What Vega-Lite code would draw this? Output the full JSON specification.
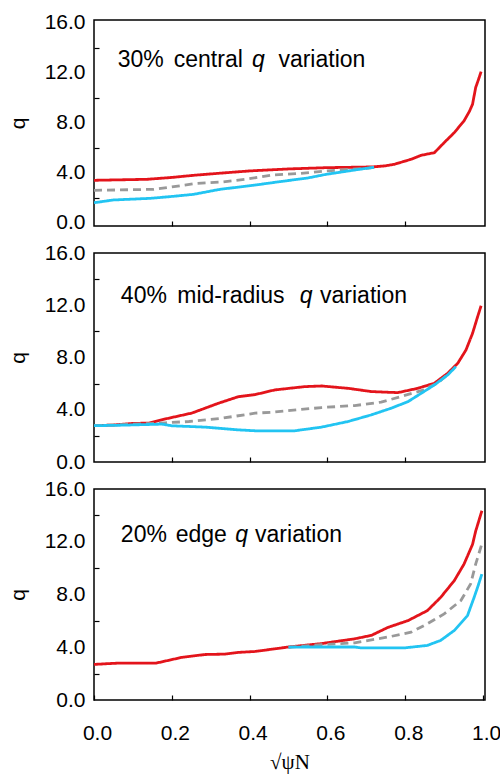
{
  "$schema": "https://vega.github.io/schema/vega-lite/v6.json",
  "background": "white",
  "padding": {"left": 6, "top": 10, "right": 5, "bottom": 5},
  "bounds": "flush",
  "spacing": 27,
  "config": {
    "view": {"stroke": "black", "strokeWidth": 1.5},
    "font": "Liberation Sans",
    "axis": {
      "domain": false,
      "grid": false,
      "labelFont": "Liberation Sans",
      "labelFontSize": 21,
      "labelColor": "black",
      "tickColor": "black",
      "tickWidth": 1.2,
      "titleFont": "Liberation Sans",
      "titleFontWeight": "normal",
      "titleFontSize": 21,
      "titleColor": "black"
    },
    "line": {"strokeWidth": 2.8},
    "text": {"align": "left", "baseline": "alphabetic", "fontSize": 23, "font": "Liberation Sans", "color": "black"}
  },
  "datasets": {
    "profiles": [
      {"panel": 1, "series": "upper", "x": 0.0, "q": 3.39},
      {"panel": 1, "series": "upper", "x": 0.05, "q": 3.42},
      {"panel": 1, "series": "upper", "x": 0.136, "q": 3.47},
      {"panel": 1, "series": "upper", "x": 0.2, "q": 3.62},
      {"panel": 1, "series": "upper", "x": 0.256, "q": 3.79},
      {"panel": 1, "series": "upper", "x": 0.32, "q": 3.95},
      {"panel": 1, "series": "upper", "x": 0.4, "q": 4.14},
      {"panel": 1, "series": "upper", "x": 0.5, "q": 4.3},
      {"panel": 1, "series": "upper", "x": 0.596, "q": 4.4},
      {"panel": 1, "series": "upper", "x": 0.716, "q": 4.46},
      {"panel": 1, "series": "upper", "x": 0.747, "q": 4.54},
      {"panel": 1, "series": "upper", "x": 0.772, "q": 4.67},
      {"panel": 1, "series": "upper", "x": 0.815, "q": 5.07},
      {"panel": 1, "series": "upper", "x": 0.841, "q": 5.39},
      {"panel": 1, "series": "upper", "x": 0.875, "q": 5.6},
      {"panel": 1, "series": "upper", "x": 0.9, "q": 6.4},
      {"panel": 1, "series": "upper", "x": 0.926, "q": 7.2},
      {"panel": 1, "series": "upper", "x": 0.951, "q": 8.14},
      {"panel": 1, "series": "upper", "x": 0.965, "q": 8.9},
      {"panel": 1, "series": "upper", "x": 0.973, "q": 9.47},
      {"panel": 1, "series": "upper", "x": 0.981, "q": 10.8},
      {"panel": 1, "series": "upper", "x": 0.99, "q": 11.6},
      {"panel": 1, "series": "upper", "x": 0.995, "q": 12.08},

      {"panel": 1, "series": "reference", "x": 0.0, "q": 2.59},
      {"panel": 1, "series": "reference", "x": 0.153, "q": 2.67},
      {"panel": 1, "series": "reference", "x": 0.2, "q": 2.86},
      {"panel": 1, "series": "reference", "x": 0.256, "q": 3.12},
      {"panel": 1, "series": "reference", "x": 0.33, "q": 3.26},
      {"panel": 1, "series": "reference", "x": 0.39, "q": 3.47},
      {"panel": 1, "series": "reference", "x": 0.46, "q": 3.82},
      {"panel": 1, "series": "reference", "x": 0.53, "q": 3.94},
      {"panel": 1, "series": "reference", "x": 0.597, "q": 4.14},
      {"panel": 1, "series": "reference", "x": 0.7, "q": 4.35},
      {"panel": 1, "series": "reference", "x": 0.73, "q": 4.46},

      {"panel": 1, "series": "lower", "x": 0.0, "q": 1.6},
      {"panel": 1, "series": "lower", "x": 0.05, "q": 1.82},
      {"panel": 1, "series": "lower", "x": 0.145, "q": 1.95},
      {"panel": 1, "series": "lower", "x": 0.2, "q": 2.1},
      {"panel": 1, "series": "lower", "x": 0.256, "q": 2.27},
      {"panel": 1, "series": "lower", "x": 0.324, "q": 2.67},
      {"panel": 1, "series": "lower", "x": 0.409, "q": 2.99},
      {"panel": 1, "series": "lower", "x": 0.477, "q": 3.28},
      {"panel": 1, "series": "lower", "x": 0.55, "q": 3.58},
      {"panel": 1, "series": "lower", "x": 0.597, "q": 3.87},
      {"panel": 1, "series": "lower", "x": 0.682, "q": 4.27},
      {"panel": 1, "series": "lower", "x": 0.72, "q": 4.43},

      {"panel": 2, "series": "upper", "x": 0.0, "q": 2.78},
      {"panel": 2, "series": "upper", "x": 0.05, "q": 2.83},
      {"panel": 2, "series": "upper", "x": 0.099, "q": 2.95},
      {"panel": 2, "series": "upper", "x": 0.141, "q": 2.98},
      {"panel": 2, "series": "upper", "x": 0.184, "q": 3.3},
      {"panel": 2, "series": "upper", "x": 0.252, "q": 3.75},
      {"panel": 2, "series": "upper", "x": 0.32, "q": 4.5},
      {"panel": 2, "series": "upper", "x": 0.371, "q": 5.0},
      {"panel": 2, "series": "upper", "x": 0.414, "q": 5.16},
      {"panel": 2, "series": "upper", "x": 0.465, "q": 5.52},
      {"panel": 2, "series": "upper", "x": 0.542, "q": 5.77},
      {"panel": 2, "series": "upper", "x": 0.585, "q": 5.82},
      {"panel": 2, "series": "upper", "x": 0.653, "q": 5.64},
      {"panel": 2, "series": "upper", "x": 0.713, "q": 5.39},
      {"panel": 2, "series": "upper", "x": 0.781, "q": 5.31},
      {"panel": 2, "series": "upper", "x": 0.832, "q": 5.64},
      {"panel": 2, "series": "upper", "x": 0.875, "q": 6.03},
      {"panel": 2, "series": "upper", "x": 0.909, "q": 6.79},
      {"panel": 2, "series": "upper", "x": 0.935, "q": 7.56},
      {"panel": 2, "series": "upper", "x": 0.956, "q": 8.57},
      {"panel": 2, "series": "upper", "x": 0.973, "q": 9.85},
      {"panel": 2, "series": "upper", "x": 0.986, "q": 11.12},
      {"panel": 2, "series": "upper", "x": 0.995, "q": 11.96},

      {"panel": 2, "series": "reference", "x": 0.0, "q": 2.78},
      {"panel": 2, "series": "reference", "x": 0.184, "q": 3.0},
      {"panel": 2, "series": "reference", "x": 0.244, "q": 3.1},
      {"panel": 2, "series": "reference", "x": 0.329, "q": 3.35},
      {"panel": 2, "series": "reference", "x": 0.414, "q": 3.74},
      {"panel": 2, "series": "reference", "x": 0.457, "q": 3.81},
      {"panel": 2, "series": "reference", "x": 0.585, "q": 4.17},
      {"panel": 2, "series": "reference", "x": 0.67, "q": 4.32},
      {"panel": 2, "series": "reference", "x": 0.738, "q": 4.58},
      {"panel": 2, "series": "reference", "x": 0.789, "q": 5.01},
      {"panel": 2, "series": "reference", "x": 0.841, "q": 5.46},
      {"panel": 2, "series": "reference", "x": 0.884, "q": 6.04},
      {"panel": 2, "series": "reference", "x": 0.91, "q": 6.74},

      {"panel": 2, "series": "lower", "x": 0.0, "q": 2.78},
      {"panel": 2, "series": "lower", "x": 0.077, "q": 2.82},
      {"panel": 2, "series": "lower", "x": 0.175, "q": 2.9},
      {"panel": 2, "series": "lower", "x": 0.201, "q": 2.77},
      {"panel": 2, "series": "lower", "x": 0.286, "q": 2.67},
      {"panel": 2, "series": "lower", "x": 0.371, "q": 2.46},
      {"panel": 2, "series": "lower", "x": 0.414, "q": 2.39},
      {"panel": 2, "series": "lower", "x": 0.516, "q": 2.39},
      {"panel": 2, "series": "lower", "x": 0.585, "q": 2.67},
      {"panel": 2, "series": "lower", "x": 0.653, "q": 3.1},
      {"panel": 2, "series": "lower", "x": 0.713, "q": 3.61},
      {"panel": 2, "series": "lower", "x": 0.764, "q": 4.12},
      {"panel": 2, "series": "lower", "x": 0.807, "q": 4.62},
      {"panel": 2, "series": "lower", "x": 0.841, "q": 5.26},
      {"panel": 2, "series": "lower", "x": 0.875, "q": 5.9},
      {"panel": 2, "series": "lower", "x": 0.909, "q": 6.66},
      {"panel": 2, "series": "lower", "x": 0.93, "q": 7.3},

      {"panel": 3, "series": "upper", "x": 0.0, "q": 2.7},
      {"panel": 3, "series": "upper", "x": 0.065, "q": 2.8},
      {"panel": 3, "series": "upper", "x": 0.16, "q": 2.8},
      {"panel": 3, "series": "upper", "x": 0.227, "q": 3.24},
      {"panel": 3, "series": "upper", "x": 0.286, "q": 3.45},
      {"panel": 3, "series": "upper", "x": 0.337, "q": 3.48},
      {"panel": 3, "series": "upper", "x": 0.371, "q": 3.61},
      {"panel": 3, "series": "upper", "x": 0.414, "q": 3.68},
      {"panel": 3, "series": "upper", "x": 0.5, "q": 4.02},
      {"panel": 3, "series": "upper", "x": 0.585, "q": 4.28},
      {"panel": 3, "series": "upper", "x": 0.67, "q": 4.64},
      {"panel": 3, "series": "upper", "x": 0.713, "q": 4.9},
      {"panel": 3, "series": "upper", "x": 0.755, "q": 5.5},
      {"panel": 3, "series": "upper", "x": 0.807, "q": 6.02},
      {"panel": 3, "series": "upper", "x": 0.857, "q": 6.78},
      {"panel": 3, "series": "upper", "x": 0.891, "q": 7.78},
      {"panel": 3, "series": "upper", "x": 0.926, "q": 9.05},
      {"panel": 3, "series": "upper", "x": 0.951, "q": 10.3},
      {"panel": 3, "series": "upper", "x": 0.973, "q": 11.8},
      {"panel": 3, "series": "upper", "x": 0.981, "q": 12.8},
      {"panel": 3, "series": "upper", "x": 0.997, "q": 14.35},

      {"panel": 3, "series": "reference", "x": 0.5, "q": 4.0},
      {"panel": 3, "series": "reference", "x": 0.585, "q": 4.2},
      {"panel": 3, "series": "reference", "x": 0.67, "q": 4.33},
      {"panel": 3, "series": "reference", "x": 0.755, "q": 4.77},
      {"panel": 3, "series": "reference", "x": 0.815, "q": 5.14},
      {"panel": 3, "series": "reference", "x": 0.857, "q": 5.78},
      {"panel": 3, "series": "reference", "x": 0.9, "q": 6.53},
      {"panel": 3, "series": "reference", "x": 0.943, "q": 7.54},
      {"panel": 3, "series": "reference", "x": 0.968, "q": 8.8},
      {"panel": 3, "series": "reference", "x": 0.981, "q": 10.3},
      {"panel": 3, "series": "reference", "x": 0.997, "q": 11.85},

      {"panel": 3, "series": "lower", "x": 0.5, "q": 4.0},
      {"panel": 3, "series": "lower", "x": 0.542, "q": 4.02},
      {"panel": 3, "series": "lower", "x": 0.67, "q": 4.02},
      {"panel": 3, "series": "lower", "x": 0.686, "q": 3.95},
      {"panel": 3, "series": "lower", "x": 0.798, "q": 3.95},
      {"panel": 3, "series": "lower", "x": 0.857, "q": 4.14},
      {"panel": 3, "series": "lower", "x": 0.891, "q": 4.52},
      {"panel": 3, "series": "lower", "x": 0.926, "q": 5.27},
      {"panel": 3, "series": "lower", "x": 0.96, "q": 6.4},
      {"panel": 3, "series": "lower", "x": 0.977, "q": 7.78},
      {"panel": 3, "series": "lower", "x": 0.986, "q": 8.55},
      {"panel": 3, "series": "lower", "x": 0.997, "q": 9.55}
    ],
    "labels": [
      {"panel": 1, "text": "30%", "x": 0.061, "q": 12.46},
      {"panel": 1, "text": "central", "x": 0.205, "q": 12.46},
      {"panel": 1, "text": "q", "x": 0.406, "q": 12.46},
      {"panel": 1, "text": "variation", "x": 0.474, "q": 12.46},
      {"panel": 2, "text": "40%", "x": 0.069, "q": 12.18},
      {"panel": 2, "text": "mid-radius", "x": 0.214, "q": 12.18},
      {"panel": 2, "text": "q", "x": 0.529, "q": 12.18},
      {"panel": 2, "text": "variation", "x": 0.581, "q": 12.18},
      {"panel": 3, "text": "20%", "x": 0.069, "q": 11.95},
      {"panel": 3, "text": "edge", "x": 0.21, "q": 11.95},
      {"panel": 3, "text": "q", "x": 0.363, "q": 11.95},
      {"panel": 3, "text": "variation", "x": 0.414, "q": 11.95}
    ]
  },
  "vconcat": [
    {
      "width": 391,
      "height": 206,
      "encoding": {
        "x": {"field": "x", "type": "quantitative",
              "scale": {"domain": [0, 1.005], "nice": false, "zero": false},
              "axis": {"values": [0.2, 0.4, 0.6, 0.8], "labels": false, "tickSize": -5, "title": null}},
        "y": {"field": "q", "type": "quantitative",
              "scale": {"domain": [-0.26, 16.2], "nice": false, "zero": false},
              "axis": {"values": [0, 2, 4, 6, 8, 10, 12, 14, 16], "labelExpr": "datum.value % 4 === 0 ? format(datum.value, '.1f') : ''", "labelOverlap": false, "labelFlush": false, "tickSize": -5, "labelPadding": 14, "tickOpacity": {"condition": {"test": "datum.value % 4 === 2", "value": 1}, "value": 0}, "title": "q", "titlePadding": 16}}
      },
      "layer": [
        {
          "data": {"name": "profiles"},
          "transform": [{"filter": "datum.panel === 1"}],
          "mark": "line",
          "encoding": {
            "color": {"field": "series", "type": "nominal", "legend": null,
                      "scale": {"domain": ["lower", "reference", "upper"], "range": ["#22c4f2", "#999999", "#e3141b"]}},
            "strokeDash": {"field": "series", "type": "nominal", "legend": null,
                           "scale": {"domain": ["lower", "reference", "upper"], "range": [[1, 0], [8, 5], [1, 0]]}}
          }
        },
        {
          "data": {"name": "labels"},
          "transform": [{"filter": "datum.panel === 1 && datum.text !== 'q'"}],
          "mark": "text",
          "encoding": {"text": {"field": "text"}}
        },
        {
          "data": {"name": "labels"},
          "transform": [{"filter": "datum.panel === 1 && datum.text === 'q'"}],
          "mark": {"type": "text", "fontStyle": "italic"},
          "encoding": {"text": {"field": "text"}}
        }
      ]
    },
    {
      "width": 391,
      "height": 209,
      "encoding": {
        "x": {"field": "x", "type": "quantitative",
              "scale": {"domain": [0, 1.005], "nice": false, "zero": false},
              "axis": {"values": [0.2, 0.4, 0.6, 0.8], "labels": false, "tickSize": -5, "title": null}},
        "y": {"field": "q", "type": "quantitative",
              "scale": {"domain": [0, 16], "nice": false, "zero": false},
              "axis": {"values": [0, 2, 4, 6, 8, 10, 12, 14, 16], "labelExpr": "datum.value % 4 === 0 ? format(datum.value, '.1f') : ''", "labelOverlap": false, "labelFlush": false, "tickSize": -5, "labelPadding": 14, "tickOpacity": {"condition": {"test": "datum.value % 4 === 2", "value": 1}, "value": 0}, "title": "q", "titlePadding": 16}}
      },
      "layer": [
        {
          "data": {"name": "profiles"},
          "transform": [{"filter": "datum.panel === 2"}],
          "mark": "line",
          "encoding": {
            "color": {"field": "series", "type": "nominal", "legend": null,
                      "scale": {"domain": ["lower", "reference", "upper"], "range": ["#22c4f2", "#999999", "#e3141b"]}},
            "strokeDash": {"field": "series", "type": "nominal", "legend": null,
                           "scale": {"domain": ["lower", "reference", "upper"], "range": [[1, 0], [8, 5], [1, 0]]}}
          }
        },
        {
          "data": {"name": "labels"},
          "transform": [{"filter": "datum.panel === 2 && datum.text !== 'q'"}],
          "mark": "text",
          "encoding": {"text": {"field": "text"}}
        },
        {
          "data": {"name": "labels"},
          "transform": [{"filter": "datum.panel === 2 && datum.text === 'q'"}],
          "mark": {"type": "text", "fontStyle": "italic"},
          "encoding": {"text": {"field": "text"}}
        }
      ]
    },
    {
      "width": 391,
      "height": 211,
      "encoding": {
        "x": {"field": "x", "type": "quantitative",
              "scale": {"domain": [0, 1.005], "nice": false, "zero": false},
              "axis": {"values": [0, 0.2, 0.4, 0.6, 0.8, 1.0], "format": ".1f", "labelFlush": false, "labelOverlap": false, "labelOffset": 3, "tickSize": -5, "labelPadding": 27, "title": "√ψN", "titleFont": "Liberation Serif", "titleFontSize": 21, "titlePadding": 8}},
        "y": {"field": "q", "type": "quantitative",
              "scale": {"domain": [0, 16], "nice": false, "zero": false},
              "axis": {"values": [0, 2, 4, 6, 8, 10, 12, 14, 16], "labelExpr": "datum.value % 4 === 0 ? format(datum.value, '.1f') : ''", "labelOverlap": false, "labelFlush": false, "tickSize": -5, "labelPadding": 14, "tickOpacity": {"condition": {"test": "datum.value % 4 === 2", "value": 1}, "value": 0}, "title": "q", "titlePadding": 16}}
      },
      "layer": [
        {
          "data": {"name": "profiles"},
          "transform": [{"filter": "datum.panel === 3"}],
          "mark": "line",
          "encoding": {
            "color": {"field": "series", "type": "nominal", "legend": null,
                      "scale": {"domain": ["lower", "reference", "upper"], "range": ["#22c4f2", "#999999", "#e3141b"]}},
            "strokeDash": {"field": "series", "type": "nominal", "legend": null,
                           "scale": {"domain": ["lower", "reference", "upper"], "range": [[1, 0], [8, 5], [1, 0]]}}
          }
        },
        {
          "data": {"name": "labels"},
          "transform": [{"filter": "datum.panel === 3 && datum.text !== 'q'"}],
          "mark": "text",
          "encoding": {"text": {"field": "text"}}
        },
        {
          "data": {"name": "labels"},
          "transform": [{"filter": "datum.panel === 3 && datum.text === 'q'"}],
          "mark": {"type": "text", "fontStyle": "italic"},
          "encoding": {"text": {"field": "text"}}
        }
      ]
    }
  ]
}
